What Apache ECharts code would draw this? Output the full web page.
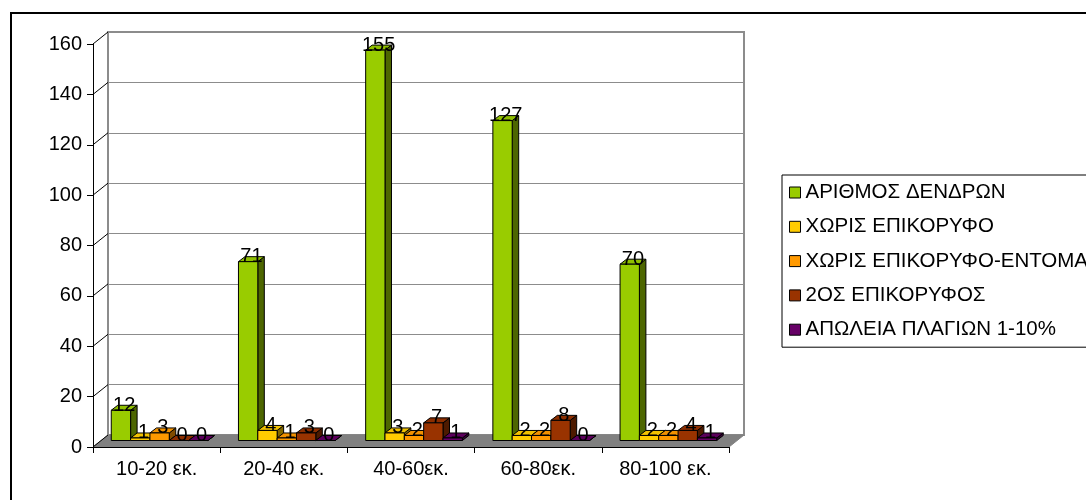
<!DOCTYPE html>
<html>
<head>
<meta charset="utf-8">
<script src="https://cdn.jsdelivr.net/npm/echarts@6/dist/echarts.min.js"></script>
<style>
  html, body { margin: 0; padding: 0; background: #fff; }
  #chart { width: 1086px; height: 500px; }
</style>
</head>
<body>
<div id="chart"></div>
<script>
// Tree counts per diameter class, with damage categories
const CATEGORIES = ['10-20 εκ.', '20-40 εκ.', '40-60εκ.', '60-80εκ.', '80-100 εκ.'];
const SERIES_NAMES = [
  'ΑΡΙΘΜΟΣ ΔΕΝΔΡΩΝ',
  'ΧΩΡΙΣ ΕΠΙΚΟΡΥΦΟ',
  'ΧΩΡΙΣ ΕΠΙΚΟΡΥΦΟ-ΕΝΤΟΜΑ',
  '2ΟΣ ΕΠΙΚΟΡΥΦΟΣ',
  'ΑΠΩΛΕΙΑ ΠΛΑΓΙΩΝ 1-10%'
];
const TREES = [12, 71, 155, 127, 70];
const NO_LEADER = [1, 4, 3, 2, 2];
const NO_LEADER_INSECTS = [3, 1, 2, 2, 2];
const SECOND_LEADER = [0, 3, 7, 8, 4];
const SIDE_LOSS = [0, 0, 1, 0, 1];
const Y_TICKS = [0, 20, 40, 60, 80, 100, 120, 140, 160];

const SERIES_VALUES = [TREES, NO_LEADER, NO_LEADER_INSECTS, SECOND_LEADER, SIDE_LOSS];

// Face colours of the boxes: front, top, right side
const FACE = ['#99CC00', '#FFCC00', '#FF9900', '#993300', '#660066'];
const TOP  = ['#8FBF00', '#F2C200', '#F29100', '#8C2E00', '#5C005C'];
const SIDE = ['#4D6600', '#806600', '#804C00', '#4D1A00', '#330033'];

const FONT = '"Liberation Sans", Arial, sans-serif';
const FS = 20;

// Pseudo-3D geometry (pixels)
const FRONT = { left: 93, top: 44, width: 636, height: 403 };
const WALL = { dx: 15, dy: -12 };       // depth of back wall relative to front plane
const BAR_PLANE = { dx: 3, dy: -6.5 };  // bars' front face relative to front plane
const BAR_DEPTH = { dx: 6.5, dy: -5 };  // thickness of each box
const BAR_FRAC = 0.152;                 // box width as fraction of a category

function boxRenderer(k) {
  return function (params, api) {
    const ci = api.value(0);
    const v = api.value(1);
    const catW = api.size([1, 0])[0];
    const bw = catW * BAR_FRAC;
    const base = api.coord([ci, 0]);
    const top = api.coord([ci, v]);
    const x0 = base[0] - 2.5 * bw + k * bw + BAR_PLANE.dx;
    const x1 = x0 + bw;
    const yb = base[1] + BAR_PLANE.dy;
    const yt = top[1] + BAR_PLANE.dy;
    const dx = BAR_DEPTH.dx, dy = BAR_DEPTH.dy;
    const edge = { stroke: '#000', lineWidth: 1 };
    return {
      type: 'group',
      children: [
        {
          type: 'polygon',
          shape: { points: [[x1, yt], [x1 + dx, yt + dy], [x1 + dx, yb + dy], [x1, yb]] },
          style: Object.assign({ fill: SIDE[k] }, edge)
        },
        {
          type: 'polygon',
          shape: { points: [[x0, yt], [x1, yt], [x1 + dx, yt + dy], [x0 + dx, yt + dy]] },
          style: Object.assign({ fill: TOP[k] }, edge)
        },
        {
          type: 'rect',
          shape: { x: x0, y: yt, width: bw, height: yb - yt },
          style: Object.assign({ fill: FACE[k] }, edge)
        },
        {
          type: 'text',
          z2: 100,
          style: {
            text: String(v),
            x: x0 + (bw + dx) / 2,
            y: yt - 5,
            textAlign: 'center',
            textVerticalAlign: 'middle',
            align: 'center',
            verticalAlign: 'middle',
            fill: '#000',
            font: FS + 'px ' + FONT
          }
        }
      ]
    };
  };
}

// Floor and the left-wall diagonals joining front ticks to back-wall gridlines
function frameRenderer(params, api) {
  const cs = params.coordSys;
  const v = api.value(1);
  const y = api.coord([0, v])[1];
  const children = [];
  if (v === 0) {
    children.push({
      type: 'polygon',
      z2: 0,
      shape: {
        points: [
          [cs.x, y], [cs.x + cs.width, y],
          [cs.x + cs.width + WALL.dx, y + WALL.dy], [cs.x + WALL.dx, y + WALL.dy]
        ]
      },
      style: { fill: '#808080', stroke: '#808080', lineWidth: 1 }
    });
  }
  children.push({
    type: 'line',
    z2: 5,
    shape: { x1: cs.x, y1: y, x2: cs.x + WALL.dx, y2: y + WALL.dy },
    style: { stroke: '#000', lineWidth: 1 }
  });
  return { type: 'group', children: children };
}

const series = [
  {
    type: 'custom',
    name: '__frame',
    xAxisIndex: 0,
    yAxisIndex: 0,
    z: 1,
    silent: true,
    renderItem: frameRenderer,
    data: Y_TICKS.map(function (t) { return [0, t]; })
  }
];
SERIES_VALUES.forEach(function (vals, k) {
  series.push({
    type: 'custom',
    name: SERIES_NAMES[k],
    xAxisIndex: 0,
    yAxisIndex: 0,
    z: 2,
    itemStyle: { color: FACE[k] },
    renderItem: boxRenderer(k),
    data: vals.map(function (v, i) { return [i, v]; })
  });
});

const chart = echarts.init(document.getElementById('chart'), null, { renderer: 'canvas' });
chart.setOption({
  animation: false,
  backgroundColor: '#fff',
  textStyle: { fontFamily: FONT },
  graphic: [
    {
      type: 'rect',
      z: -10,
      silent: true,
      shape: { x: 11, y: 13, width: 1200, height: 600 },
      style: { fill: 'none', stroke: '#000', lineWidth: 2 }
    }
  ],
  legend: {
    orient: 'vertical',
    left: 782,
    top: 175,
    padding: [7, 10, 7, 7],
    itemWidth: 11,
    itemHeight: 11,
    itemGap: 13.3,
    icon: 'rect',
    borderColor: '#000',
    borderWidth: 1,
    backgroundColor: '#fff',
    itemStyle: { borderColor: '#000', borderWidth: 1 },
    textStyle: { fontSize: 20.5, fontFamily: FONT, color: '#000', lineHeight: 20 },
    data: SERIES_NAMES
  },
  grid: [
    {
      left: FRONT.left, top: FRONT.top, width: FRONT.width, height: FRONT.height,
      containLabel: false
    },
    {
      left: FRONT.left + WALL.dx, top: FRONT.top + WALL.dy,
      width: FRONT.width, height: FRONT.height,
      show: true, backgroundColor: '#fff', borderColor: '#8c8c8c', borderWidth: 2,
      containLabel: false
    }
  ],
  xAxis: [
    {
      type: 'category',
      gridIndex: 0,
      data: CATEGORIES,
      boundaryGap: true,
      z: 10,
      axisLine: { show: true, lineStyle: { color: '#000', width: 1 } },
      axisTick: { show: true, length: 6, lineStyle: { color: '#000' } },
      axisLabel: { fontSize: FS, fontFamily: FONT, color: '#000', margin: 12 },
      splitLine: { show: false }
    },
    {
      type: 'category',
      gridIndex: 1,
      data: CATEGORIES,
      axisLine: { show: false },
      axisTick: { show: false },
      axisLabel: { show: false },
      splitLine: { show: false }
    }
  ],
  yAxis: [
    {
      type: 'value',
      gridIndex: 0,
      min: 0, max: 160, interval: 20,
      z: 10,
      axisLine: { show: true, lineStyle: { color: '#000', width: 1 } },
      axisTick: { show: true, length: 6, lineStyle: { color: '#000' } },
      axisLabel: { fontSize: FS, fontFamily: FONT, color: '#000', margin: 11 },
      splitLine: { show: false }
    },
    {
      type: 'value',
      gridIndex: 1,
      min: 0, max: 160, interval: 20,
      axisLine: { show: false },
      axisTick: { show: false },
      axisLabel: { show: false },
      splitLine: { show: true, lineStyle: { color: '#8c8c8c', width: 1 } }
    }
  ],
  series: series
});
</script>
</body>
</html>
